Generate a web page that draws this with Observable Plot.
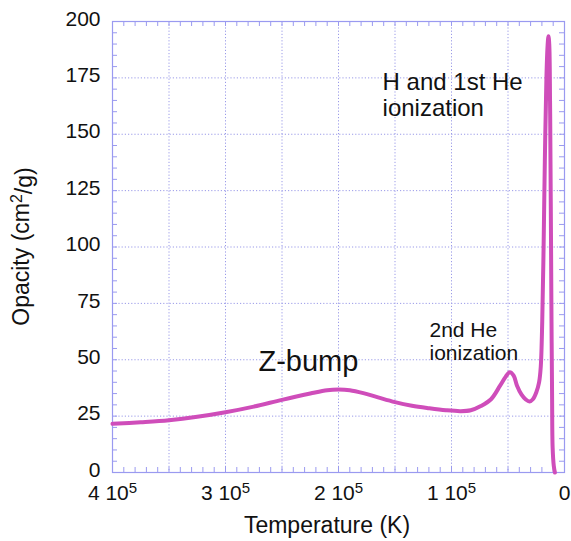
<!DOCTYPE html>
<html><head><meta charset="utf-8">
<script src="https://cdn.jsdelivr.net/npm/d3@7"></script>
<script src="https://cdn.jsdelivr.net/npm/@observablehq/plot@0.6"></script>
<style>body{margin:0;background:#fff} #chart{width:571px;height:541px}</style>
</head><body><div id="chart"></div>
<script>
// Temperature (K) and opacity (cm^2/g)
const temperature = [400000, 375000, 350000, 325000, 300000, 275000, 250000, 225000, 210000, 200000, 190000, 178000, 165000, 150000, 135000, 120000, 105000, 92000, 83000, 74000, 65000, 57000, 52000, 48400, 45000, 42000, 38000, 34500, 31000, 28000, 25000, 22500, 21000, 19700, 18500, 17400, 16000, 15000, 14200, 13500, 12800, 12400, 11900, 11500, 11000, 10500, 9500, 8500];
const opacity = [21.6, 22.3, 23.2, 24.7, 26.7, 29.2, 32.2, 35, 36.5, 36.8, 36.5, 35.2, 33.3, 31.2, 29.6, 28.5, 27.6, 27.2, 27.6, 29.5, 32.5, 38.5, 42.5, 44.5, 43, 38.5, 34.5, 32.5, 31.5, 32.5, 35.5, 40, 47, 67, 100, 138, 175, 189, 193.5, 190, 165, 138, 100, 67, 35, 11, 3, 0];

const xTickValues = [400000, 300000, 200000, 100000, 0];
const xGridValues = [400000, 350000, 300000, 250000, 200000, 150000, 100000, 50000, 0];
const xMinorValues = d3.range(0, 400001, 10000);
const yTickValues = [0, 25, 50, 75, 100, 125, 150, 175, 200];
const yMinorValues = d3.range(0, 201, 5);

const noteText = ["H and 1st He\nionization", "2nd He\nionization", "Z-bump"];
const noteT = [161000, 119500, 270800];
const noteKappa = [177.6, 67.2, 55];
const noteSize = [24, 21, 29];

const data = temperature.map((t, i) => ({T: t, kappa: opacity[i]}));
const notes = noteText.map((s, i) => ({text: s, T: noteT[i], kappa: noteKappa[i], size: noteSize[i]}));

const gridColor = "#9a9ae8";
const frameColor = "#9a9af0";
const lineColor = "#cf4dba";
const W = 571, H = 541, mL = 112, mR = 7, mT = 21, mB = 69;
const innerW = W - mL - mR, innerH = H - mT - mB;

const svg = Plot.plot({
  width: W, height: H,
  marginLeft: mL, marginRight: mR, marginTop: mT, marginBottom: mB,
  style: {fontFamily: "'Liberation Sans', Arial, Helvetica, sans-serif", fontSize: "21px", color: "#111", background: "#fff"},
  x: {domain: [400000, 0], label: null},
  y: {domain: [0, 200], label: null},
  marks: [
    Plot.gridX(xGridValues, {stroke: gridColor, strokeOpacity: 1, strokeDasharray: "1.2,2"}),
    Plot.gridY(yTickValues, {stroke: gridColor, strokeOpacity: 1, strokeDasharray: "1.2,2"}),
    Plot.ruleX(xMinorValues, {stroke: frameColor, insetTop: innerH - 5}),
    Plot.ruleX(xMinorValues, {stroke: frameColor, insetBottom: innerH - 5}),
    Plot.ruleY(yMinorValues, {stroke: frameColor, insetRight: innerW - 5}),
    Plot.ruleY(yMinorValues, {stroke: frameColor, insetLeft: innerW - 5}),
    Plot.frame({stroke: frameColor, strokeWidth: 1.2}),
    Plot.line(data, {x: "T", y: "kappa", stroke: lineColor, strokeWidth: 4, curve: "catmull-rom"}),
    Plot.axisX(xTickValues, {tickSize: 0, tickPadding: 13, tickFormat: d => String(d / 1e5), fontSize: 21, label: null}),
    Plot.axisY(yTickValues, {tickSize: 0, tickPadding: 12, dy: -2.5, fontSize: 21, label: null}),
    Plot.text(notes, {x: "T", y: "kappa", text: "text", fontSize: "size", textAnchor: "start", lineAnchor: "top", lineHeight: 1.08, fill: "#111"})
  ]
});

const s = d3.select(svg);
s.selectAll('g[aria-label="x-axis tick label"] text').each(function () {
  const t = this.textContent;
  if (t !== "0") {
    this.textContent = "";
    const el = d3.select(this);
    el.append("tspan").text(t + " 10");
    el.append("tspan").attr("dy", "-0.5em").attr("font-size", "15px").text("5");
  }
});
s.append("text").attr("x", mL + innerW / 2 - 11).attr("y", 533)
  .attr("text-anchor", "middle").attr("font-size", 23).attr("fill", "#111").text("Temperature (K)");
const yl = s.append("text").attr("transform", `translate(29,${mT + innerH / 2}) rotate(-90)`)
  .attr("text-anchor", "middle").attr("font-size", 23).attr("fill", "#111");
yl.append("tspan").text("Opacity (cm");
yl.append("tspan").attr("dy", "-0.45em").attr("font-size", "16px").text("2");
yl.append("tspan").attr("dy", "0.45em").text("/g)");

document.getElementById("chart").appendChild(svg);
</script>
</body></html>
